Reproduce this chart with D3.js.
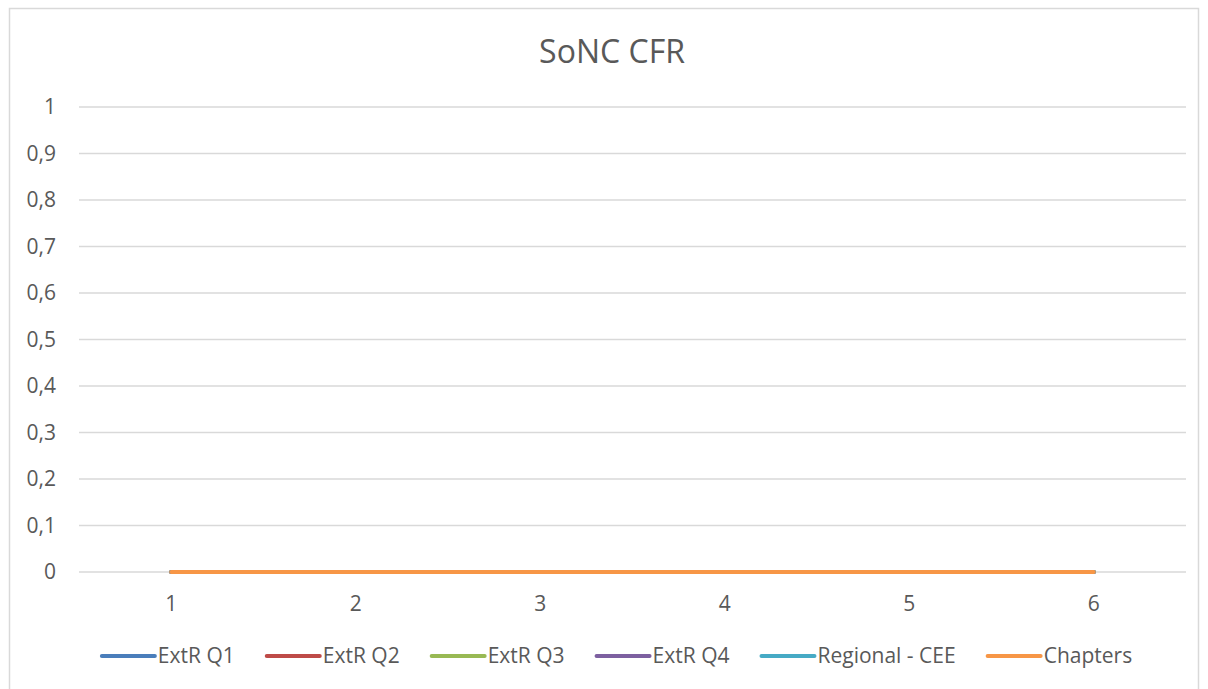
<!DOCTYPE html>
<html>
<head>
<meta charset="utf-8">
<script src="https://cdn.jsdelivr.net/npm/d3@7"></script>
<style>
  body { margin: 0; background: #fff; }
  text { font-family: "Open Sans", "Liberation Sans", sans-serif; fill: #595959; }
</style>
</head>
<body>
<svg></svg>
<script>
const categories = [1, 2, 3, 4, 5, 6];
const seriesNames = ["ExtR Q1", "ExtR Q2", "ExtR Q3", "ExtR Q4", "Regional - CEE", "Chapters"];
const seriesColors = ["#4a7ebb", "#be4b48", "#98b954", "#7d60a0", "#46aac5", "#f79646"];
const extrQ1 = [0, 0, 0, 0, 0, 0];
const extrQ2 = [0, 0, 0, 0, 0, 0];
const extrQ3 = [0, 0, 0, 0, 0, 0];
const extrQ4 = [0, 0, 0, 0, 0, 0];
const regionalCee = [0, 0, 0, 0, 0, 0];
const chapters = [0, 0, 0, 0, 0, 0];
const yTicks = [0, 0.1, 0.2, 0.3, 0.4, 0.5, 0.6, 0.7, 0.8, 0.9, 1];

const seriesValues = [extrQ1, extrQ2, extrQ3, extrQ4, regionalCee, chapters];

const W = 1208, H = 689;
const svg = d3.select("svg").attr("width", W).attr("height", H);

// chart border
svg.append("rect")
    .attr("x", 9.5).attr("y", 8.5)
    .attr("width", 1189).attr("height", 700)
    .attr("fill", "#fff").attr("stroke", "#d9d9d9").attr("stroke-width", 1.5);

svg.append("text")
    .attr("x", 612).attr("y", 63)
    .attr("text-anchor", "middle")
    .attr("font-size", 32)
    .text("SoNC CFR");

const x = d3.scaleBand().domain(categories).range([79, 1186]);
const y = d3.scaleLinear().domain([0, 1]).range([572, 107]);

// gridlines
svg.append("g")
    .selectAll("line")
    .data(yTicks)
    .enter().append("line")
    .attr("x1", 79).attr("x2", 1186)
    .attr("y1", d => y(d)).attr("y2", d => y(d))
    .attr("stroke", "#d9d9d9").attr("stroke-width", 1.3);

// y labels
svg.append("g")
    .selectAll("text")
    .data(yTicks)
    .enter().append("text")
    .attr("x", 56)
    .attr("y", d => y(d) + 7)
    .attr("text-anchor", "end")
    .attr("font-size", 21)
    .text(d => String(d).replace(".", ","));

// x labels
svg.append("g")
    .selectAll("text")
    .data(categories)
    .enter().append("text")
    .attr("x", d => x(d) + x.bandwidth() / 2)
    .attr("y", 611)
    .attr("text-anchor", "middle")
    .attr("font-size", 21)
    .text(d => d);

const line = d3.line()
    .x((d, i) => x(categories[i]) + x.bandwidth() / 2)
    .y(d => y(d));

svg.append("g")
    .selectAll("path")
    .data(seriesValues)
    .enter().append("path")
    .attr("d", line)
    .attr("fill", "none")
    .attr("stroke", (d, i) => seriesColors[i])
    .attr("stroke-width", 4)
    .attr("stroke-linecap", "round")
    .attr("stroke-linejoin", "round");

// legend
const legend = svg.append("g");
const items = legend.selectAll("g")
    .data(seriesNames)
    .enter().append("g");
items.append("line")
    .attr("x1", 2).attr("x2", 55)
    .attr("y1", 0).attr("y2", 0)
    .attr("stroke", (d, i) => seriesColors[i])
    .attr("stroke-width", 4)
    .attr("stroke-linecap", "round");
items.append("text")
    .attr("x", 58).attr("y", 7)
    .attr("font-size", 21)
    .text(d => d);

let pos = 0;
const offsets = [];
items.each(function () {
    offsets.push(pos);
    pos += 58 + this.querySelector("text").getComputedTextLength() + 30;
});
const totalW = pos - 30;
const startX = 616 - totalW / 2;
items.attr("transform", (d, i) => `translate(${startX + offsets[i]},656)`);
</script>
</body>
</html>
